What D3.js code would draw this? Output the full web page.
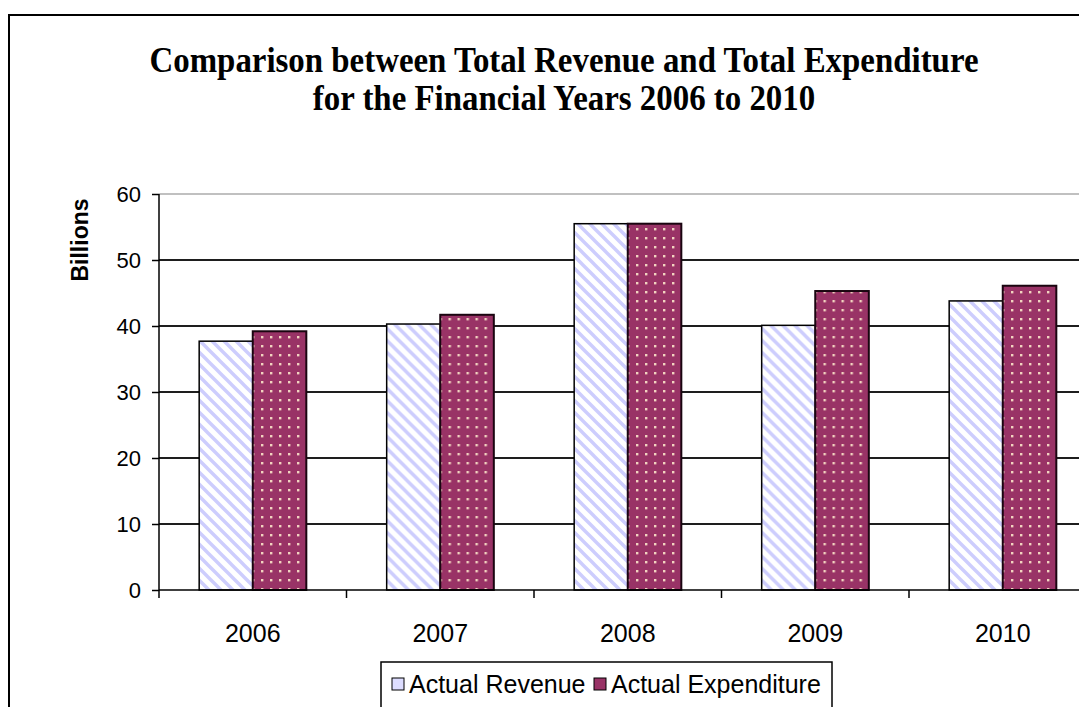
<!DOCTYPE html>
<html>
<head>
<meta charset="utf-8">
<title>Total Revenue and Total Expenditure 2006 to 2010</title>
<script src="https://d3js.org/d3.v7.min.js"></script>
<style>
body { margin: 0; background: #fff; }
svg { display: block; }
.axis text { font-family: "Liberation Sans", Arial, sans-serif; fill: #000; }
.axis path, .axis line { stroke: #000; stroke-width: 1.5px; }
</style>
</head>
<body>
<div id="chart"></div>
<script>
var years = ["2006", "2007", "2008", "2009", "2010"];
var revenue = [37.7, 40.3, 55.5, 40.1, 43.8];
var expenditure = [39.2, 41.7, 55.5, 45.3, 46.1];
var yTicks = [0, 10, 20, 30, 40, 50, 60];
var seriesNames = ["Actual Revenue", "Actual Expenditure"];
var titleLines = ["Comparison between Total Revenue and Total Expenditure",
                  "for the Financial Years 2006 to 2010"];

var width = 1079, height = 707;
var plotLeft = 159, plotTop = 194, plotBottom = 590, bandW = 187.5;

var svg = d3.select("#chart").append("svg")
    .attr("width", width)
    .attr("height", height);

var defs = svg.append("defs");

// light diagonal stripes for revenue
var stripes = defs.append("pattern")
    .attr("id", "stripes")
    .attr("patternUnits", "userSpaceOnUse")
    .attr("width", 12).attr("height", 12);
stripes.append("rect").attr("width", 12).attr("height", 12).attr("fill", "#fff");
stripes.append("path")
    .attr("d", "M-3,-3 L15,15 M-3,9 L3,15 M9,-3 L15,3")
    .attr("stroke", "#cdcdfd")
    .attr("stroke-width", 3.4);

// plum with small dots for expenditure
var dots = defs.append("pattern")
    .attr("id", "dots")
    .attr("patternUnits", "userSpaceOnUse")
    .attr("width", 9).attr("height", 9);
dots.append("rect").attr("width", 9).attr("height", 9).attr("fill", "#993366");
dots.append("rect").attr("x", 3).attr("y", 3).attr("width", 2.4).attr("height", 2.4).attr("fill", "#f2d4c0");

// outer chart border (runs past the window on right and bottom)
svg.append("rect")
    .attr("x", 9).attr("y", 15)
    .attr("width", 1200).attr("height", 800)
    .attr("fill", "none")
    .attr("stroke", "#000")
    .attr("stroke-width", 2);

svg.append("g").selectAll("text")
    .data(titleLines)
    .enter().append("text")
    .attr("transform", function(d, i) { return "translate(564," + (72 + i * 38) + ") scale(0.94,1)"; })
    .attr("text-anchor", "middle")
    .style("font-family", "'Liberation Serif', 'Times New Roman', serif")
    .style("font-weight", "bold")
    .style("font-size", "35px")
    .text(function(d) { return d; });

var x0 = d3.scaleBand()
    .domain(years)
    .range([plotLeft, plotLeft + bandW * years.length]);

var x1 = d3.scaleBand()
    .domain(seriesNames)
    .range([0, x0.bandwidth()])
    .paddingOuter(0.75);

var y = d3.scaleLinear()
    .domain([0, 60])
    .range([plotBottom, plotTop]);

// gridlines
svg.append("g").selectAll("line")
    .data(yTicks.filter(function(t) { return t > 0 && t < 60; }))
    .enter().append("line")
    .attr("x1", plotLeft).attr("x2", width)
    .attr("y1", function(d) { return y(d); })
    .attr("y2", function(d) { return y(d); })
    .attr("stroke", "#1e1e1e")
    .attr("stroke-width", 2);

svg.append("line")
    .attr("x1", plotLeft).attr("x2", width)
    .attr("y1", y(60)).attr("y2", y(60))
    .attr("stroke", "#c0c0c0")
    .attr("stroke-width", 2);

var rows = years.map(function(yr, i) {
    return { year: yr, values: [revenue[i], expenditure[i]] };
});

var groups = svg.append("g").selectAll("g")
    .data(rows)
    .enter().append("g")
    .attr("transform", function(d) { return "translate(" + x0(d.year) + ",0)"; });

groups.selectAll("rect")
    .data(function(d) { return d.values.map(function(v, j) { return { name: seriesNames[j], value: v }; }); })
    .enter().append("rect")
    .attr("x", function(d) { return x1(d.name); })
    .attr("y", function(d) { return y(d.value); })
    .attr("width", x1.bandwidth())
    .attr("height", function(d) { return plotBottom - y(d.value); })
    .attr("fill", function(d) { return d.name == seriesNames[0] ? "url(#stripes)" : "url(#dots)"; })
    .attr("stroke", function(d) { return d.name == seriesNames[0] ? "#000" : "#1a0510"; })
    .attr("stroke-width", function(d) { return d.name == seriesNames[0] ? 1.5 : 2; });

// y axis
var yAxis = d3.axisLeft(y)
    .tickValues(yTicks)
    .tickSize(7)
    .tickPadding(11);

svg.append("g")
    .attr("class", "axis")
    .attr("transform", "translate(" + plotLeft + ",0)")
    .call(yAxis)
    .call(function(g) {
        g.select(".domain").attr("d", "M0," + plotTop + "V" + plotBottom);
        g.selectAll("text").style("font-size", "22px");
    });

svg.append("text")
    .attr("transform", "translate(88,240) rotate(-90)")
    .attr("text-anchor", "middle")
    .style("font-family", "'Liberation Sans', Arial, sans-serif")
    .style("font-weight", "bold")
    .style("font-size", "23px")
    .text("Billions");

// x axis: ticks sit between the categories
var xAxisG = svg.append("g").attr("class", "axis");
xAxisG.append("line")
    .attr("x1", plotLeft).attr("x2", width)
    .attr("y1", plotBottom).attr("y2", plotBottom);
xAxisG.selectAll(".tick")
    .data(years.concat(["end"]))
    .enter().append("line")
    .attr("x1", function(d, i) { return plotLeft + bandW * i; })
    .attr("x2", function(d, i) { return plotLeft + bandW * i; })
    .attr("y1", plotBottom).attr("y2", plotBottom + 8);
xAxisG.selectAll("text")
    .data(years)
    .enter().append("text")
    .attr("x", function(d) { return x0(d) + x0.bandwidth() / 2; })
    .attr("y", 642)
    .attr("text-anchor", "middle")
    .style("font-size", "25px")
    .text(function(d) { return d; });

// legend
var legend = svg.append("g").attr("transform", "translate(381,662)");
legend.append("rect")
    .attr("width", 451).attr("height", 46)
    .attr("fill", "#fff")
    .attr("stroke", "#000")
    .attr("stroke-width", 1.5);

var legendX = [11, 213];
var items = legend.selectAll(".item")
    .data(seriesNames)
    .enter().append("g")
    .attr("class", "item")
    .attr("transform", function(d, i) { return "translate(" + legendX[i] + ",0)"; });
items.append("rect")
    .attr("x", 0).attr("y", 16)
    .attr("width", 12).attr("height", 12)
    .attr("fill", function(d, i) { return i == 0 ? "#ddddff" : "#993366"; })
    .attr("stroke", "#000")
    .attr("stroke-width", 1);
items.append("text")
    .attr("x", 17).attr("y", 31)
    .style("font-family", "'Liberation Sans', Arial, sans-serif")
    .style("font-size", "25px")
    .text(function(d) { return d; });
</script>
</body>
</html>
